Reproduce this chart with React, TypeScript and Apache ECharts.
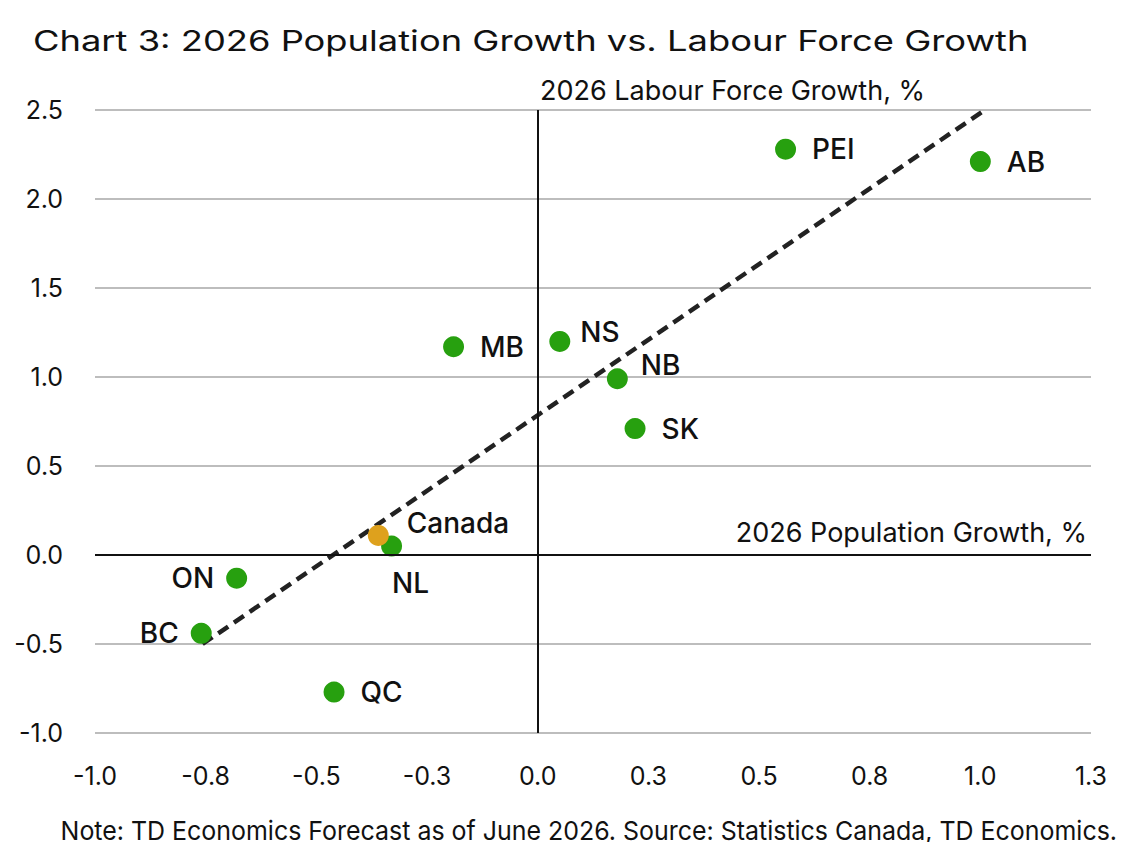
import React, { useEffect, useRef } from "react";
import * as echarts from "echarts";

const provinces = ["PEI", "AB", "MB", "NS", "NB", "SK", "NL", "ON", "BC", "QC"];
const popGrowth = [0.56, 1.0, -0.19, 0.05, 0.18, 0.22, -0.33, -0.68, -0.76, -0.46];
const lfGrowth = [2.28, 2.21, 1.17, 1.2, 0.99, 0.71, 0.05, -0.13, -0.44, -0.77];
const labelPos = ["right", "right", "right", "nsright", "nbright", "right", "bottom", "left", "left", "right"];
const canadaPoint = [-0.36, 0.11];
const trendX = [-0.757, 1.01];
const trendY = [-0.5, 2.5];

const LABEL_FONT = "Inter, 'Open Sans', sans-serif";

export default function App() {
  const ref = useRef<HTMLDivElement>(null);
  useEffect(() => {
    const chart = echarts.init(ref.current!, null, { renderer: "svg" });
    const provData = provinces.map((p, i) => {
      const pos = labelPos[i];
      let label: any = { position: "right", distance: 16 };
      if (pos === "left") label = { position: "left", distance: 12 };
      if (pos === "bottom") label = { position: "bottom", distance: 12, offset: [19, 0] };
      if (pos === "nsright") label = { position: "right", distance: 10, offset: [0, -9] };
      if (pos === "nbright") label = { position: "right", distance: 13, offset: [0, -14] };
      return { name: p, value: [popGrowth[i], lfGrowth[i]], label };
    });
    chart.setOption({
      animation: false,
      backgroundColor: "#ffffff",
      grid: { left: 95, right: 48, top: 110, bottom: 117 },
      xAxis: {
        type: "value",
        min: -1,
        max: 1.25,
        interval: 0.25,
        axisLine: { show: false },
        axisTick: { show: false },
        splitLine: { show: false },
        axisLabel: {
          margin: 30,
          fontFamily: LABEL_FONT,
          fontSize: 25,
          color: "#111",
          formatter: (v: number) => v.toFixed(1),
        },
      },
      yAxis: {
        type: "value",
        min: -1,
        max: 2.5,
        interval: 0.5,
        axisLine: { show: false },
        axisTick: { show: false },
        splitLine: { show: true, lineStyle: { color: "#bdbdbd", width: 2 } },
        axisLabel: {
          margin: 32,
          fontFamily: LABEL_FONT,
          fontSize: 25,
          color: "#111",
          formatter: (v: number) => v.toFixed(1),
        },
      },
      graphic: [
        {
          type: "text",
          x: 33,
          y: 27,
          scaleX: 1.297,
          style: {
            text: "Chart 3: 2026 Population Growth vs. Labour Force Growth",
            font: `400 28px ${LABEL_FONT}`,
            fill: "#111",
            textVerticalAlign: "top",
          },
        },
        {
          type: "text",
          left: 540,
          top: 77,
          style: { text: "2026 Labour Force Growth, %", font: `27px ${LABEL_FONT}`, fill: "#111" },
        },
        {
          type: "text",
          right: 52,
          top: 519,
          style: { text: "2026 Population Growth, %", font: `27px ${LABEL_FONT}`, fill: "#111" },
        },
        {
          type: "text",
          x: 1117,
          y: 817,
          scaleX: 0.96,
          style: {
            text: "Note: TD Economics Forecast as of June 2026. Source: Statistics Canada, TD Economics.",
            font: `26px ${LABEL_FONT}`,
            fill: "#111",
            textAlign: "right",
            textVerticalAlign: "top",
          },
        },
      ],
      series: [
        {
          type: "line",
          data: trendX.map((x, i) => [x, trendY[i]]),
          symbol: "none",
          lineStyle: { color: "#222", width: 4.5, type: [12, 7] },
          z: 3,
          markLine: {
            silent: true,
            symbol: "none",
            label: { show: false },
            lineStyle: { color: "#111", width: 2, type: "solid" },
            data: [{ xAxis: 0 }, { yAxis: 0 }],
          },
        },
        {
          type: "scatter",
          data: provData,
          symbolSize: 21,
          itemStyle: { color: "#27a00f", opacity: 1 },
          z: 4,
          label: {
            show: true,
            formatter: "{b}",
            fontFamily: LABEL_FONT,
            fontSize: 28,
            fontWeight: 500,
            color: "#111",
          },
        },
        {
          type: "scatter",
          data: [{ name: "Canada", value: canadaPoint }],
          symbolSize: 21,
          itemStyle: { color: "#dea11d", opacity: 1 },
          z: 5,
          label: {
            show: true,
            formatter: "{b}",
            position: "right",
            distance: 18,
            offset: [0, -12],
            fontFamily: LABEL_FONT,
            fontSize: 28,
            fontWeight: 500,
            color: "#111",
          },
        },
      ],
    });
    return () => chart.dispose();
  }, []);
  return <div ref={ref} style={{ width: 1139, height: 850, margin: -8 }} />;
}
